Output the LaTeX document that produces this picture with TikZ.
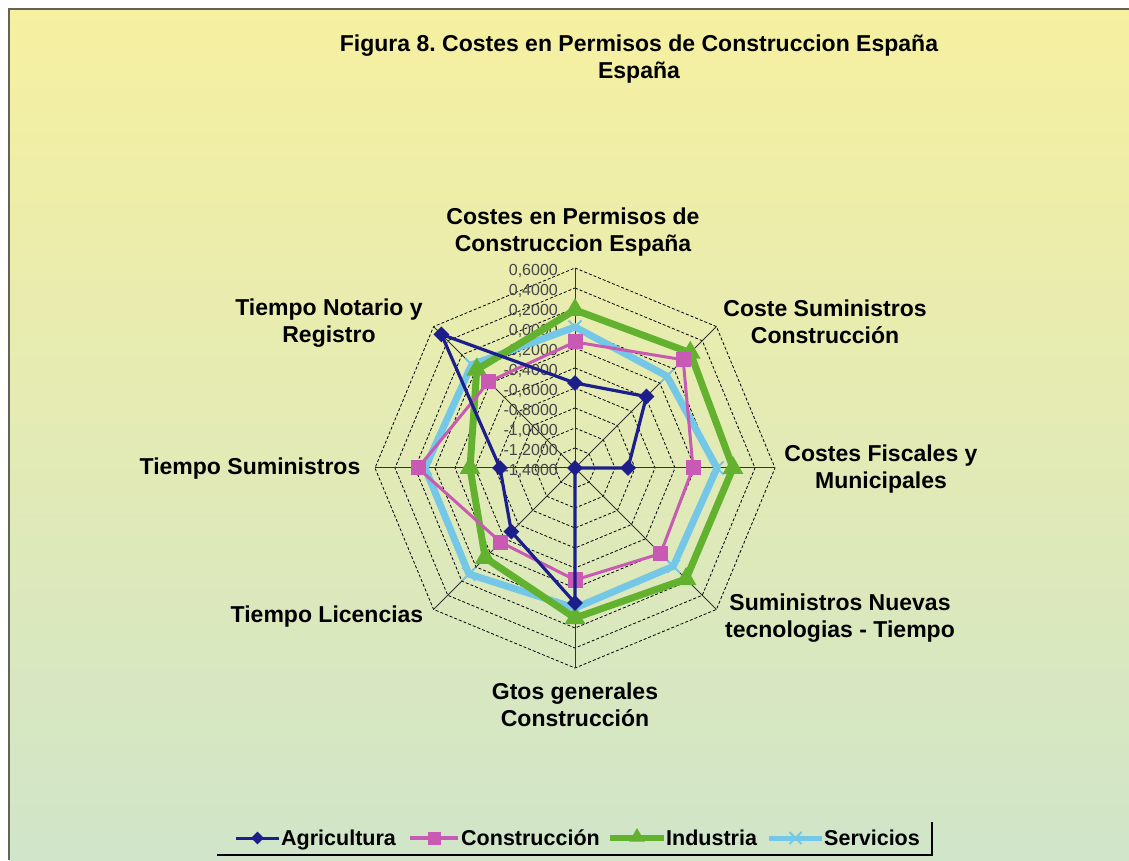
\documentclass[tikz,border=0pt]{standalone}
\usepackage{fontspec}
\setmainfont{Liberation Sans}
\usetikzlibrary{shapes.geometric,shapes.misc}
\definecolor{agr}{RGB}{28,30,140}
\definecolor{con}{RGB}{200,90,180}
\definecolor{ind}{RGB}{99,178,47}
\definecolor{ser}{RGB}{116,199,230}
\definecolor{bgtop}{RGB}{246,240,160}
\definecolor{bgmid}{RGB}{230,236,182}
\definecolor{bgbot}{RGB}{208,229,201}
\definecolor{framec}{RGB}{100,100,86}
\definecolor{tickc}{RGB}{70,70,70}
\frenchspacing
\begin{document}
\begin{tikzpicture}[x=1pt,y=1pt,
  lab/.style={font=\fontsize{23}{27}\selectfont\bfseries, align=center, text=black, inner sep=0pt},
  legtext/.style={font=\fontsize{21.5}{24}\selectfont\bfseries, text=black, inner sep=0pt, anchor=base west},
  tick/.style={font=\fontsize{16}{18}\selectfont, text=tickc, inner sep=0pt, anchor=east},
  gridline/.style={draw=black, line width=0.8pt, dash pattern=on 3pt off 2pt},
  axisline/.style={draw=black!80, line width=1pt},
  agrline/.style={draw=agr, line width=3.2pt, line join=round},
  conline/.style={draw=con, line width=3pt, line join=round},
  indline/.style={draw=ind, line width=7pt, line join=miter},
  serline/.style={draw=ser, line width=7pt, line join=miter},
  agrmark/.style={diamond, fill=agr, minimum size=16pt, inner sep=0pt},
  conmark/.style={rectangle, fill=con, minimum size=15pt, inner sep=0pt},
  indmark/.style={regular polygon, regular polygon sides=3, fill=ind, minimum size=24pt, inner sep=0pt},
  sermark/.style={cross out, draw=ser, line width=2pt, minimum size=11pt, inner sep=0pt},
  legline/.style={line width=3pt}
]
\useasboundingbox (0,0) rectangle (1129,860);
\fill[white] (0,0) rectangle (1129,860);
\shade[top color=bgtop, middle color=bgmid, bottom color=bgbot] (9,0) rectangle (1129,851);
\draw[framec, line width=2.5pt] (9,0) -- (9,851) -- (1129,851);

% title
\node[lab] (title) at (639,801) {Figura 8. Costes en Permisos de Construccion España\\España};

\begin{scope}[shift={(575,392)}]
  \coordinate (c) at (0,0);
  % grid
  \foreach \k in {1,...,10}
    \draw[gridline] (90:\k*20) -- (45:\k*20) -- (0:\k*20) -- (-45:\k*20) -- (-90:\k*20) -- (-135:\k*20) -- (180:\k*20) -- (135:\k*20) -- cycle;
  % axes
  \foreach \i in {0,...,7} {
    \coordinate (ax\i) at ({90-45*\i}:200);
    \draw[axisline] (c) -- (ax\i);
  }
  % tick labels
  \foreach \k/\t in {0/{-1,4000},1/{-1,2000},2/{-1,0000},3/{-0,8000},4/{-0,6000},5/{-0,4000},6/{-0,2000},7/{0,0000},8/{0,2000},9/{0,4000},10/{0,6000}}
    \node[tick] (tk\k) at (-17,{\k*20-3}) {\t};

  % data coordinates (value from -1.4 centre to 0.6 outer ring)
  \foreach \v [count=\i] in {0.01,-0.10,0.02,-0.01,0.00,0.10,0.10,0.06}
    \coordinate (S\i) at ({90-45*(\i-1)}:{(\v+1.4)*100});
  \foreach \v [count=\i] in {0.18,0.23,0.18,0.17,0.10,-0.13,-0.35,-0.01}
    \coordinate (I\i) at ({90-45*(\i-1)}:{(\v+1.4)*100});
  \foreach \v [count=\i] in {-0.14,0.13,-0.22,-0.19,-0.28,-0.35,0.17,-0.18}
    \coordinate (C\i) at ({90-45*(\i-1)}:{(\v+1.4)*100});
  \foreach \v [count=\i] in {-0.55,-0.39,-0.87,-1.40,-0.05,-0.50,-0.65,0.49}
    \coordinate (A\i) at ({90-45*(\i-1)}:{(\v+1.4)*100});

  % series
  \draw[serline] (S1) -- (S2) -- (S3) -- (S4) -- (S5) -- (S6) -- (S7) -- (S8) -- cycle;
  \foreach \i in {1,...,8} \node[sermark] (sm\i) at (S\i) {};
  \draw[indline] (I1) -- (I2) -- (I3) -- (I4) -- (I5) -- (I6) -- (I7) -- (I8) -- cycle;
  \foreach \i in {1,...,8} \node[indmark] (im\i) at (I\i) {};
  \draw[conline] (C1) -- (C2) -- (C3) -- (C4) -- (C5) -- (C6) -- (C7) -- (C8) -- cycle;
  \foreach \i in {1,...,8} \node[conmark] (cm\i) at (C\i) {};
  \draw[agrline] (A1) -- (A2) -- (A3) -- (A4) -- (A5) -- (A6) -- (A7) -- (A8) -- cycle;
  \foreach \i in {1,...,8} \node[agrmark] (am\i) at (A\i) {};
\end{scope}

% category labels
\node[lab] (lab1) at (573,628) {Costes en Permisos de\\Construccion España};
\node[lab] (lab2) at (825,538.5) {Coste Suministros\\Construcción};
\node[lab] (lab3) at (881,390.5) {Costes Fiscales y\\Municipales};
\node[lab] (lab4) at (840,241.5) {Suministros Nuevas\\tecnologias - Tiempo};
\node[lab] (lab5) at (575,155.5) {Gtos generales\\Construcción};
\node[lab] (lab6) at (327,243) {Tiempo Licencias};
\node[lab] (lab7) at (250,391) {Tiempo Suministros};
\node[lab] (lab8) at (329,537) {Tiempo Notario y\\Registro};

% legend
\coordinate (lg1a) at (236,22); \coordinate (lg1b) at (279,22);
\draw[agr, legline] (lg1a) -- (lg1b);
\node[agrmark, minimum size=13pt] (lgm1) at (257.5,22) {};
\node[legtext] (lgt1) at (281,14.5) {Agricultura};

\coordinate (lg2a) at (410,22); \coordinate (lg2b) at (458,22);
\draw[con, legline, line width=4pt] (lg2a) -- (lg2b);
\node[conmark, minimum size=13pt] (lgm2) at (434,22) {};
\node[legtext] (lgt2) at (461,14.5) {Construcción};

\coordinate (lg3a) at (610,22); \coordinate (lg3b) at (664,22);
\draw[ind, legline, line width=6pt] (lg3a) -- (lg3b);
\node[indmark, minimum size=18pt] (lgm3) at (637,23) {};
\node[legtext] (lgt3) at (666,14.5) {Industria};

\coordinate (lg4a) at (769,22); \coordinate (lg4b) at (822,22);
\draw[ser, legline, line width=5pt] (lg4a) -- (lg4b);
\node[sermark, minimum size=10pt] (lgm4) at (795.5,22) {};
\node[legtext] (lgt4) at (824,14.5) {Servicios};

\coordinate (lbA) at (217,5); \coordinate (lbB) at (932,5); \coordinate (lbC) at (932,38);
\draw[black, line width=2.5pt] (lbA) -- (lbB) -- (lbC);
\end{tikzpicture}
\end{document}
